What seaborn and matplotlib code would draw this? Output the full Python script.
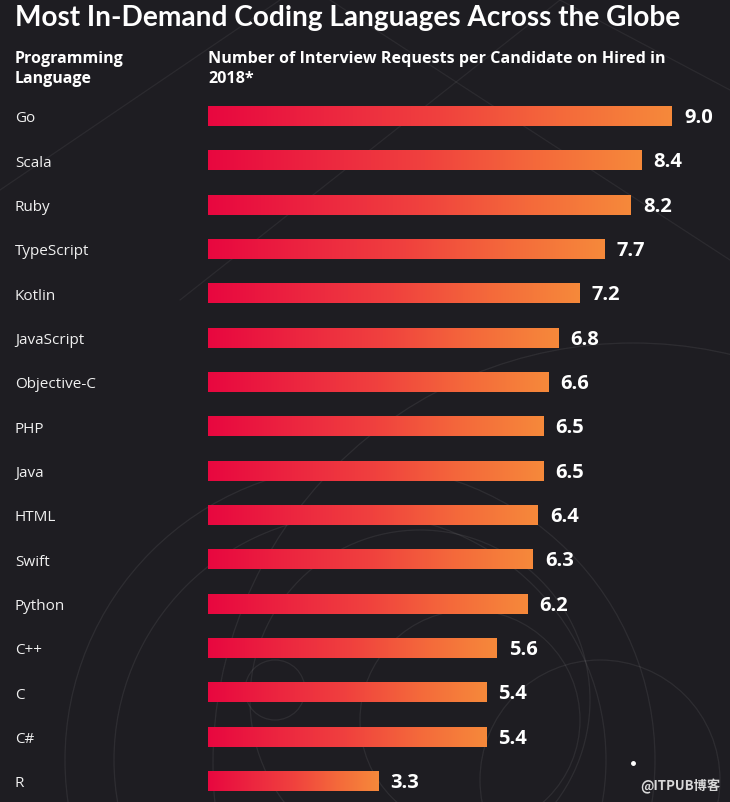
import numpy as np
import matplotlib
matplotlib.use("Agg")
import matplotlib.pyplot as plt
import matplotlib.transforms as mtransforms
from matplotlib.colors import LinearSegmentedColormap
from matplotlib.patches import Circle
import pandas as pd
import seaborn as sns

languages = ["Go", "Scala", "Ruby", "TypeScript", "Kotlin", "JavaScript", "Objective-C",
             "PHP", "Java", "HTML", "Swift", "Python", "C++", "C", "C#", "R"]
requests = [9.0, 8.4, 8.2, 7.7, 7.2, 6.8, 6.6, 6.5, 6.5, 6.4, 6.3, 6.2, 5.6, 5.4, 5.4, 3.3]
title = "Most In-Demand Coding Languages Across the Globe"
col_header = "Programming\nLanguage"
val_header = "Number of Interview Requests per Candidate on Hired in\n2018*"
watermark = "@ITPUB博客"

W, H = 730, 802
BG = "#1e1d22"
sns.set_theme(style="dark")
plt.rcParams['font.family'] = ['Open Sans', 'DejaVu Sans']

fig = plt.figure(figsize=(W / 100, H / 100), dpi=100, facecolor=BG)

# background decoration axes in pixel coordinates
bg = fig.add_axes([0, 0, 1, 1], zorder=0)
bg.set_xlim(0, W)
bg.set_ylim(H, 0)
bg.axis("off")
bg.set_facecolor(BG)
for (cx, cy, r) in [(360, 760, 295), (360, 760, 246), (420, 700, 170), (470, 720, 110),
                    (275, 690, 30), (600, 780, 120), (633, 763, 420)]:
    bg.add_patch(Circle((cx, cy), r, fill=False, ec="#ffffff", alpha=0.07, lw=0.9))
for (x0, y0, x1, y1) in [(0, 190, 280, 0), (180, 300, 560, 0), (330, 0, 730, 260), (560, 0, 730, 90)]:
    bg.plot([x0, x1], [y0, y1], color="#ffffff", alpha=0.06, lw=0.9)
bg.plot([633], [763], "o", color="white", ms=2.5)

ax = fig.add_axes([208 / W, 0, 1 - 208 / W, 1 - 94 / H], zorder=1)
ax.patch.set_alpha(0)
df = pd.DataFrame({"language": languages, "requests": requests})
sns.barplot(data=df, x="requests", y="language", orient="h", ax=ax, width=0.45,
            color="#ef3a3f", saturation=1)

cmap = LinearSegmentedColormap.from_list("g", ["#e8073f", "#ec2540", "#f0413e", "#f4683b", "#f6893a"])
grad = np.linspace(0, 1, 256).reshape(1, -1)
for p in ax.patches:
    x0, y0, w, h = p.get_x(), p.get_y(), p.get_width(), p.get_height()
    ax.imshow(grad, extent=[x0, x0 + w, y0 + h, y0], aspect="auto", cmap=cmap,
              interpolation="bilinear", zorder=2)
    p.set_visible(False)

xmax = (W - 208) / (464 / 9.0)
ax.set_xlim(0, xmax)
ax.set_ylim((H - 94) / 44.33 - 0.5, -0.5)
ax.set_xticks([])
ax.set_yticks([])
ax.set_xlabel("")
ax.set_ylabel("")
for s in ax.spines.values():
    s.set_visible(False)
ax.grid(False)

# value labels
for i, v in enumerate(requests):
    ax.annotate(f"{v:.1f}", xy=(v, i), xytext=(12, -2), textcoords="offset pixels",
                va="center", ha="left", color="white", fontsize=14.5, fontweight="bold")

# language labels
tr = mtransforms.blended_transform_factory(fig.transFigure, ax.transData)
for i, lang in enumerate(languages):
    ax.text(15 / W, i + 0.06, lang, transform=tr, va="center", ha="left", color="#f0f0f0",
            fontsize=11)

fig.text(15 / W, 1 - 18 / H, title, color="white", fontsize=20.2, fontweight="bold",
         va="center", ha="left", family=["Lato", "DejaVu Sans"])
fig.text(15 / W, 1 - 69 / H, col_header, color="white", fontsize=11.5, fontweight="bold",
         va="center", ha="left", linespacing=1.3)
fig.text(208 / W, 1 - 69 / H, val_header, color="white", fontsize=11.6, fontweight="bold",
         va="center", ha="left", linespacing=1.3)
fig.text(720 / W, 1 - 786 / H, watermark, color="#d8d8d8", fontsize=9.5, fontweight="bold",
         va="center", ha="right", family=["Noto Sans CJK SC", "DejaVu Sans"])

fig.savefig("out.png", dpi=100, facecolor=BG)
